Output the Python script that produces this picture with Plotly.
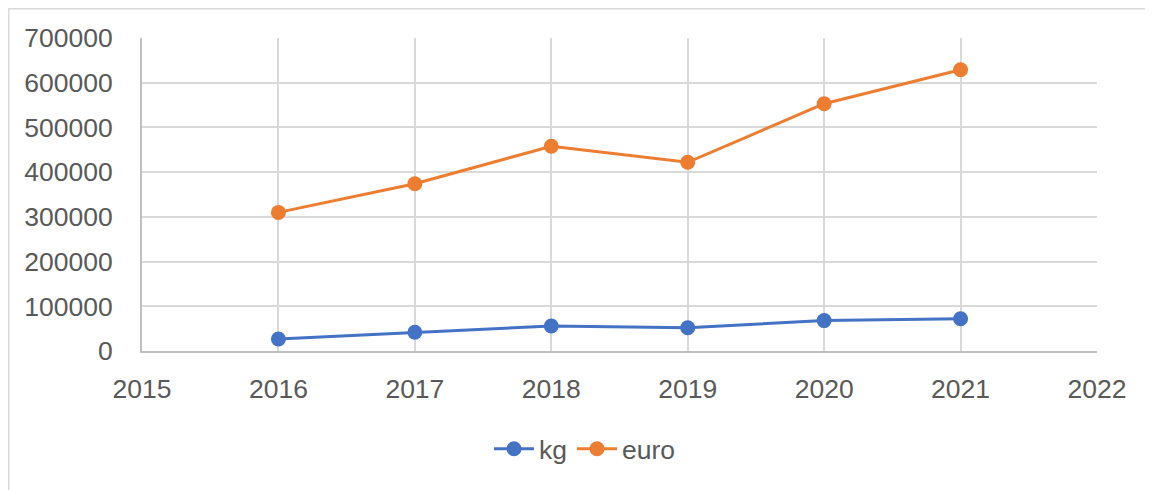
import plotly.graph_objects as go

years = [2016, 2017, 2018, 2019, 2020, 2021]
kg = [27000, 42000, 56000, 52000, 68000, 72000]
euro = [310000, 374000, 458000, 422000, 553000, 629000]
x_ticks = [2015, 2016, 2017, 2018, 2019, 2020, 2021, 2022]
y_ticks = [0, 100000, 200000, 300000, 400000, 500000, 600000, 700000]

FONT = "Liberation Sans"
TXT = "#595959"

fig = go.Figure()
fig.add_trace(go.Scatter(x=years, y=kg, name="kg", mode="lines+markers",
                         line=dict(color="#4472C4", width=3),
                         marker=dict(color="#4472C4", size=15)))
fig.add_trace(go.Scatter(x=years, y=euro, name="euro", mode="lines+markers",
                         line=dict(color="#ED7D31", width=3),
                         marker=dict(color="#ED7D31", size=15)))

# page has an 8px body margin, so the figure is offset by (8, 8)
L, T, R, B = 134, 30, 56, 139
W, H = 1145, 482
pw = W - L - R
ph = H - T - B

fig.update_layout(
    width=W, height=H,
    margin=dict(l=L, r=R, t=T, b=B),
    paper_bgcolor="white", plot_bgcolor="white",
    font=dict(family=FONT, size=26.5, color=TXT),
    showlegend=True,
    legend=dict(orientation="h", x=(585 - 142) / pw, xanchor="center",
                y=(351 - 449) / ph, yanchor="middle",
                font=dict(family=FONT, size=26.5, color=TXT), itemwidth=40,
                bgcolor="rgba(0,0,0,0)"),
    xaxis=dict(range=[2015, 2022], tickvals=x_ticks, ticktext=[str(v) for v in x_ticks],
               showgrid=True, gridcolor="#D9D9D9", gridwidth=1.5,
               showline=True, linecolor="#BFBFBF", linewidth=2,
               ticks="outside", ticklen=13, tickcolor="rgba(0,0,0,0)",
               zeroline=False, fixedrange=True),
    yaxis=dict(range=[0, 700000], tickvals=y_ticks, ticktext=[str(v) for v in y_ticks],
               showgrid=True, gridcolor="#D9D9D9", gridwidth=1.5,
               showline=True, linecolor="#BFBFBF", linewidth=2,
               ticks="outside", ticklen=22, tickcolor="rgba(0,0,0,0)",
               zeroline=False, fixedrange=True),
    shapes=[
        dict(type="rect", xref="paper", yref="paper",
             x0=(0.75 - L) / pw, x1=(W + 20 - L) / pw,
             y0=-(B + 20) / ph, y1=(ph + T - 0.75) / ph,
             line=dict(color="#D9D9D9", width=1.5), fillcolor="rgba(0,0,0,0)", layer="below"),
    ],
)

fig.write_html("out.html")
